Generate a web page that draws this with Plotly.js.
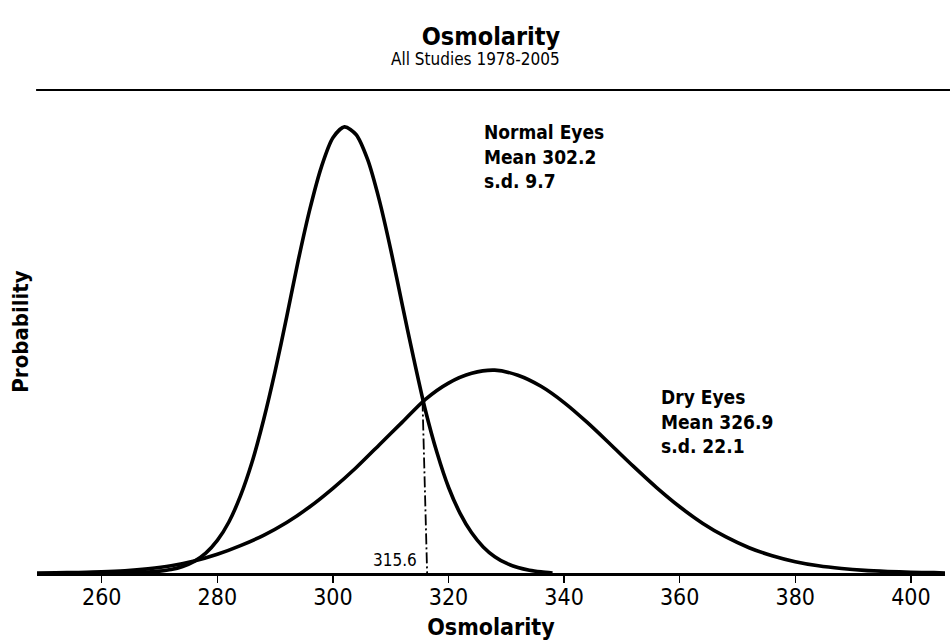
<!DOCTYPE html>
<html>
<head>
<meta charset="utf-8">
<script src="https://cdn.plot.ly/plotly-3.0.1.min.js"></script>
<style>
  html, body { margin: 0; padding: 0; background: #ffffff; }
  #chart { width: 950px; height: 640px; }
</style>
</head>
<body>
<div id="chart"></div>
<script>
// ---- Data ----
// Normal eyes curve (osmolarity vs. probability density)
const normalX = [260, 262, 264, 266, 268, 270, 272, 274, 276, 278, 280, 282, 284, 286, 288, 290, 292, 294, 296, 298, 300, 302, 304, 306, 308, 310, 312, 314, 316, 318, 320, 322, 324, 326, 328, 330, 332, 334, 336, 338];
const normalY = [0, 0.00001, 0.00002, 0.00004, 0.00008, 0.00017, 0.00032, 0.0006, 0.00107, 0.00183, 0.0030, 0.0047, 0.0071, 0.0102, 0.0141, 0.0186, 0.0236, 0.0288, 0.0335, 0.0374, 0.0401, 0.0411, 0.0404, 0.0381, 0.0344, 0.0298, 0.0247, 0.0197, 0.0150, 0.0111, 0.0079, 0.0055, 0.0037, 0.0024, 0.0015, 0.0009, 0.0005, 0.00025, 0.0001, 0];

// Dry eyes curve
const dryX = [248, 252, 256, 260, 264, 268, 272, 276, 280, 284, 288, 292, 296, 300, 304, 308, 312, 316, 320, 324, 328, 332, 336, 340, 344, 348, 352, 356, 360, 364, 368, 372, 376, 380, 384, 388, 392, 396, 400, 404, 406];
const dryY = [0, 0.00002, 0.00005, 0.0001, 0.0002, 0.00038, 0.00066, 0.0011, 0.00172, 0.00252, 0.00347, 0.00465, 0.0061, 0.0078, 0.0097, 0.0118, 0.0139, 0.0160, 0.0175, 0.0184, 0.01869, 0.01822, 0.0172, 0.0157, 0.01387, 0.01186, 0.00982, 0.00787, 0.0061, 0.00457, 0.00332, 0.00233, 0.00159, 0.00104, 0.00066, 0.00041, 0.00024, 0.00014, 0.00007, 0.00003, 0];

// Cut-off (intersection) marker
const cutoffX = [315.5, 316.3];
const cutoffY = [0.0159, 0];
const cutoffLabel = "315.6";

const xTicks = [260, 280, 300, 320, 340, 360, 380, 400];

const normalLabel = "<b>Normal Eyes<br>Mean 302.2<br>s.d. 9.7</b>";
const dryLabel = "<b>Dry Eyes<br>Mean 326.9<br>s.d. 22.1</b>";

const FONT = "'DejaVu Sans Condensed', 'DejaVu Sans', Tahoma, sans-serif";

const traces = [
  {
    x: normalX, y: normalY, type: 'scatter', mode: 'lines',
    line: { color: '#000000', width: 3.6, shape: 'spline', smoothing: 0.8 },
    hoverinfo: 'skip', showlegend: false
  },
  {
    x: dryX, y: dryY, type: 'scatter', mode: 'lines',
    line: { color: '#000000', width: 3.6, shape: 'spline', smoothing: 0.8 },
    hoverinfo: 'skip', showlegend: false
  },
  {
    x: cutoffX, y: cutoffY, type: 'scatter', mode: 'lines',
    line: { color: '#000000', width: 1.8, dash: '11px,3px,2px,3px' },
    hoverinfo: 'skip', showlegend: false
  }
];

const layout = {
  width: 950, height: 640,
  paper_bgcolor: '#ffffff', plot_bgcolor: '#ffffff',
  margin: { l: 37, r: 5, t: 90, b: 67 },
  font: { family: FONT, color: '#000000' },
  title: {
    text: '<b>Osmolarity</b>',
    font: { family: FONT, size: 25, color: '#000000' },
    x: 0.5, xref: 'paper', xanchor: 'center',
    y: 1 - 36 / 640, yref: 'container', yanchor: 'middle'
  },
  xaxis: {
    range: [248.8, 405.9],
    tickvals: xTicks, ticktext: xTicks.map(String),
    ticks: 'outside', ticklen: 7, tickwidth: 1.5, tickcolor: '#000000',
    ticklabelstandoff: -5,
    showline: true, linecolor: '#000000', linewidth: 2.5,
    showgrid: false, zeroline: false,
    tickfont: { family: FONT, size: 23, color: '#000000' },
    title: { text: '<b>Osmolarity</b>', font: { family: FONT, size: 23, color: '#000000' }, standoff: 12 }
  },
  yaxis: {
    range: [0, 0.0445],
    showticklabels: false, ticks: '', showgrid: false, zeroline: false, showline: false,
    title: { text: '<b>Probability</b>', font: { family: FONT, size: 22, color: '#000000' }, standoff: 1 }
  },
  shapes: [
    { type: 'line', xref: 'paper', yref: 'paper', x0: -0.001, x1: 1.0055, y0: 1, y1: 1,
      line: { color: '#000000', width: 2 } }
  ],
  annotations: [
    { text: 'All Studies 1978-2005', xref: 'paper', yref: 'paper', x: 0.483, y: (573 - 59) / 483,
      xanchor: 'center', yanchor: 'middle', showarrow: false,
      font: { family: FONT, size: 17, color: '#000000' } },
    { text: normalLabel, xref: 'x', yref: 'paper', x: 325.8, y: (573 - 119) / 483,
      xanchor: 'left', yanchor: 'top', align: 'left', showarrow: false,
      font: { family: FONT, size: 19, color: '#000000' } },
    { text: dryLabel, xref: 'x', yref: 'paper', x: 356.5, y: (573 - 384) / 483,
      xanchor: 'left', yanchor: 'top', align: 'left', showarrow: false,
      font: { family: FONT, size: 19, color: '#000000' } },
    { text: cutoffLabel, xref: 'x', yref: 'y', x: 315.6, y: 0,
      xanchor: 'right', yanchor: 'bottom', xshift: -4, yshift: 1, showarrow: false,
      font: { family: FONT, size: 17, color: '#000000' } }
  ]
};

Plotly.newPlot('chart', traces, layout, { staticPlot: true, displayModeBar: false });
</script>
</body>
</html>
